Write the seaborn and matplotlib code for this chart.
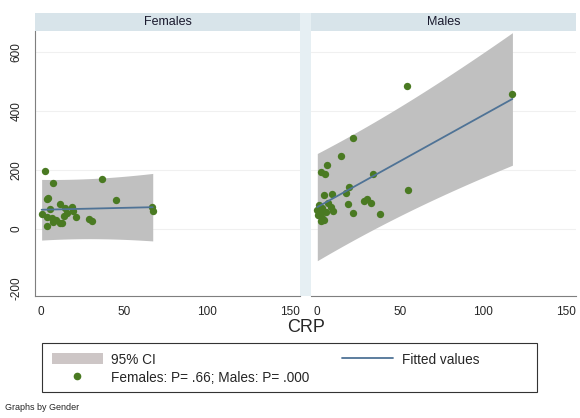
import numpy as np
import pandas as pd
import matplotlib
matplotlib.use("Agg")
import matplotlib.pyplot as plt
import matplotlib.patches as mpatches
from matplotlib.lines import Line2D
import seaborn as sns

sns.set_style("white")
plt.rcParams['font.family'] = ['Liberation Sans', 'DejaVu Sans']

panels = ["Females", "Males"]
female_crp = [2.4, 7.4, 3.4, 4.0, 37, 45, 66.7, 67.3, 0.4, 5.4, 3.4, 6.4, 3.4, 7.4,
              11.4, 12.5, 11.6, 14.5, 15.5, 18.5, 19.0, 21.0, 29.0, 30.5, 9.0, 14.0]
female_y = [197, 155, 102, 106, 170, 99, 74, 61, 51, 68, 42, 36, 11, 25,
            19, 19, 85, 70, 53, 74, 62, 40, 34, 28, 30, 45]
male_crp = [54, 117.7, 21.9, 14.3, 5.8, 2.6, 4.6, 34, 55, 19.3, 17.7, 4.2, 8.8,
            30, 28.3, 32.7, 18.9, 6.8, 8.2, 9.8, 21.7, 37.8, 1.2, 0.8, 2.2, 3.2,
            2.2, 4.2, 0.2, 5.2, 3.0]
male_y = [486, 456, 310, 249, 218, 194, 186, 185, 133, 142, 123, 114, 118,
          102, 95, 87, 84, 87, 76, 62, 55, 51, 81, 47, 53, 36, 28, 31, 64, 59, 70]
xticks = [0, 50, 100, 150]
yticks = [-200, 0, 200, 400, 600]
legend_labels = ["95% CI", "Females: P= .66; Males: P= .000", "Fitted values"]

point_color = "#4A7A22"
line_color = "#4F7396"
band_color = "#C0C0C0"
strip_color = "#D8E4EA"
gap_color = "#E6EFF3"
axis_color = "#7F7F7F"

fig = plt.figure(figsize=(5.8, 4.18), dpi=100)
fig.patch.set_facecolor("white")

W, H = 580, 418
def frac(x0, y0, x1, y1):
    return [x0 / W, 1 - y1 / H, (x1 - x0) / W, (y1 - y0) / H]

# gap between panels
gap = fig.add_axes(frac(300, 13, 311, 296))
gap.set_facecolor(gap_color)
gap.set_xticks([]); gap.set_yticks([])
for s in gap.spines.values():
    s.set_visible(False)

axes_pos = [frac(35, 31, 300, 296), frac(311, 31, 576, 296)]
strip_pos = [frac(35, 13, 300, 31), frac(311, 13, 576, 31)]
datasets = [(female_crp, female_y), (male_crp, male_y)]

for i, (name, (xs, ys)) in enumerate(zip(panels, datasets)):
    ax = fig.add_axes(axes_pos[i])
    x = np.array(xs, float); y = np.array(ys, float)
    n = len(x)
    b, a = np.polyfit(x, y, 1)
    resid = y - (a + b * x)
    s = np.sqrt(np.sum(resid ** 2) / (n - 2))
    xg = np.linspace(x.min(), x.max(), 100)
    yg = a + b * xg
    sxx = np.sum((x - x.mean()) ** 2)
    tval = 2.05
    se = s * np.sqrt(1 + 1 / n + (xg - x.mean()) ** 2 / sxx)
    ax.fill_between(xg, yg - tval * se, yg + tval * se, color=band_color, lw=0, zorder=1)
    df = pd.DataFrame({"CRP": x, "y": y})
    sns.scatterplot(data=df, x="CRP", y="y", ax=ax, color=point_color, s=28,
                    edgecolor=point_color, linewidth=0, zorder=3)
    fit = pd.DataFrame({"CRP": xg, "fit": yg})
    sns.lineplot(data=fit, x="CRP", y="fit", ax=ax, color=line_color, lw=1.3, zorder=4)
    ax.set_xlim(-3.6, 156)
    ax.set_ylim(-227, 671)
    ax.set_xticks(xticks)
    ax.set_xticklabels([str(t) for t in xticks], fontsize=8.5)
    ax.set_yticks(yticks)
    for yv in yticks[1:]:
        ax.axhline(yv, color="#F0F0F0", lw=0.8, zorder=0)
    ax.set_xlabel(""); ax.set_ylabel("")
    ax.spines["top"].set_visible(False)
    ax.spines["right"].set_visible(False)
    ax.spines["bottom"].set_color(axis_color)
    ax.spines["left"].set_color(axis_color)
    ax.tick_params(axis="x", direction="out", length=3, color=axis_color, pad=4)
    if i == 0:
        ax.set_yticklabels([str(t) for t in yticks], rotation=90, va="center", fontsize=8.5)
        ax.tick_params(axis="y", direction="out", length=3, color=axis_color, pad=6)
    else:
        ax.spines["left"].set_visible(False)
        ax.set_yticks([])
    st = fig.add_axes(strip_pos[i])
    st.set_facecolor(strip_color)
    st.set_xticks([]); st.set_yticks([])
    for sp in st.spines.values():
        sp.set_visible(False)
    st.text(0.5, 0.5, name, ha="center", va="center", fontsize=9, color="#1A1A2E",
            transform=st.transAxes)

fig.text(306 / W, 1 - 328 / H, "CRP", ha="center", va="center", fontsize=13)

# legend frame
frame = mpatches.Rectangle((42 / W, 1 - 392 / H), 495 / W, 49 / H, transform=fig.transFigure,
                           facecolor="white", edgecolor="#333333", lw=0.8, zorder=0)
fig.add_artist(frame)

handles = [mpatches.Patch(facecolor="#CDC6C6", edgecolor="none"),
           Line2D([], [], marker="o", color="none", markerfacecolor=point_color,
                  markeredgecolor=point_color, markersize=4.5),
           Line2D([], [], color=line_color, lw=1.3)]
leg = fig.legend(handles, legend_labels, ncol=2, loc="upper left",
                 bbox_to_anchor=(42 / W, 1 - 343 / H),
                 fontsize=9.8, frameon=False, handlelength=3.8, handleheight=0.9,
                 handletextpad=0.6, borderaxespad=0, borderpad=0.7,
                 labelspacing=0.3, columnspacing=2.35)
leg.set_zorder(2)

fig.text(5 / W, 1 - 408 / H, "Graphs by Gender", ha="left", va="center", fontsize=6.5)

fig.savefig("out.png", dpi=100)
